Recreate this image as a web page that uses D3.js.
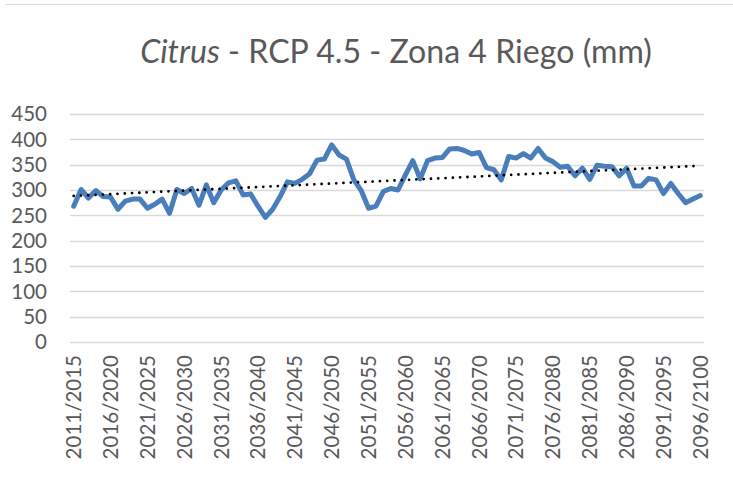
<!DOCTYPE html>
<html>
<head>
<meta charset="utf-8">
<script src="https://cdn.jsdelivr.net/npm/d3@7"></script>
<style>
  html, body { margin: 0; padding: 0; background: #fff; }
  svg { display: block; font-family: Lato, 'Open Sans', sans-serif; }
</style>
</head>
<body>
<div id="chart"></div>
<script>
const WIDTH = 733
const HEIGHT = 479

// 5-year windows 2011/2015 ... 2096/2100
const startYears = d3.range(2011, 2097)
const categories = startYears.map(y => `${y}/${y + 4}`)

// riego (mm)
const riego = [
  268, 301, 284, 299, 287, 286, 262, 278, 282, 282,
  264, 272, 282, 254, 301, 293, 303, 270, 310, 275,
  300, 314, 318, 290, 292, 268, 246, 262, 287, 316,
  313, 321, 332, 359, 361, 389, 369, 361, 320, 299,
  264, 268, 297, 303, 300, 330, 358, 322, 358, 363,
  364, 381, 382, 378, 371, 374, 344, 340, 320, 366,
  363, 372, 363, 382, 363, 356, 345, 347, 328, 343,
  321, 349, 347, 346, 328, 343, 308, 308, 323, 320,
  293, 313, 293, 275, 282, 289
]

const yTicks = [0, 50, 100, 150, 200, 250, 300, 350, 400, 450]
const labelEvery = 5

const margin = { left: 70, right: 29, top: 114, bottom: 137 }

const svg = d3.select('#chart')
  .append('svg')
  .attr('width', WIDTH)
  .attr('height', HEIGHT)

// faint chart border along the top
svg.append('line')
  .attr('x1', 6).attr('x2', WIDTH)
  .attr('y1', 4.5).attr('y2', 4.5)
  .attr('stroke', '#d9d9d9')
  .attr('stroke-width', 1)

const x = d3.scaleBand()
  .domain(categories)
  .range([margin.left, WIDTH - margin.right])

const y = d3.scaleLinear()
  .domain([0, 450])
  .range([HEIGHT - margin.bottom, margin.top])

// gridlines
svg.append('g')
  .selectAll('line')
  .data(yTicks)
  .join('line')
  .attr('x1', margin.left)
  .attr('x2', WIDTH - margin.right)
  .attr('y1', d => Math.round(y(d)) + 0.5)
  .attr('y2', d => Math.round(y(d)) + 0.5)
  .attr('stroke', '#d9d9d9')
  .attr('stroke-width', 1.3)

// y tick labels
svg.append('g')
  .selectAll('text')
  .data(yTicks)
  .join('text')
  .attr('x', 47)
  .attr('y', d => y(d))
  .attr('dy', '0.36em')
  .attr('text-anchor', 'end')
  .attr('fill', '#595959')
  .attr('font-size', 20.5)
  .text(d => d)

const cx = d => x(d) + x.bandwidth() / 2

// x tick labels (every 5th category)
svg.append('g')
  .selectAll('text')
  .data(categories.filter((d, i) => i % labelEvery === 0))
  .join('text')
  .attr('transform', d => `translate(${cx(d)},355) rotate(-90)`)
  .attr('dy', '0.36em')
  .attr('text-anchor', 'end')
  .attr('fill', '#595959')
  .attr('font-size', 20.5)
  .text(d => d)

// series line
const line = d3.line()
  .x((d, i) => cx(categories[i]))
  .y(d => y(d))

svg.append('path')
  .datum(riego)
  .attr('fill', 'none')
  .attr('stroke', '#4a7ebb')
  .attr('stroke-width', 5)
  .attr('stroke-linejoin', 'round')
  .attr('stroke-linecap', 'round')
  .attr('d', line)

// linear trendline (least squares over the series)
const n = riego.length
const mx = d3.mean(d3.range(n))
const my = d3.mean(riego)
const slope = d3.sum(riego, (v, i) => (i - mx) * (v - my)) / d3.sum(d3.range(n), i => (i - mx) ** 2)
const icpt = my - slope * mx
const trend = [icpt, icpt + slope * (n - 1)]

svg.append('line')
  .attr('x1', cx(categories[0]))
  .attr('x2', cx(categories[n - 1]))
  .attr('y1', y(trend[0]))
  .attr('y2', y(trend[1]))
  .attr('stroke', '#000')
  .attr('stroke-width', 2.8)
  .attr('stroke-linecap', 'round')
  .attr('stroke-dasharray', '0,7.3')

// title
const title = svg.append('text')
  .attr('x', 396)
  .attr('y', 63)
  .attr('text-anchor', 'middle')
  .attr('fill', '#595959')
  .attr('font-size', 27)

title.append('tspan').attr('font-style', 'italic').text('Citrus')
title.append('tspan').text(' - RCP 4.5 - Zona 4 Riego (mm)')

// fit title to the width it has in the picture
const tw = title.node().getComputedTextLength()
title.attr('font-size', 27 * 512 / tw)
</script>
</body>
</html>
